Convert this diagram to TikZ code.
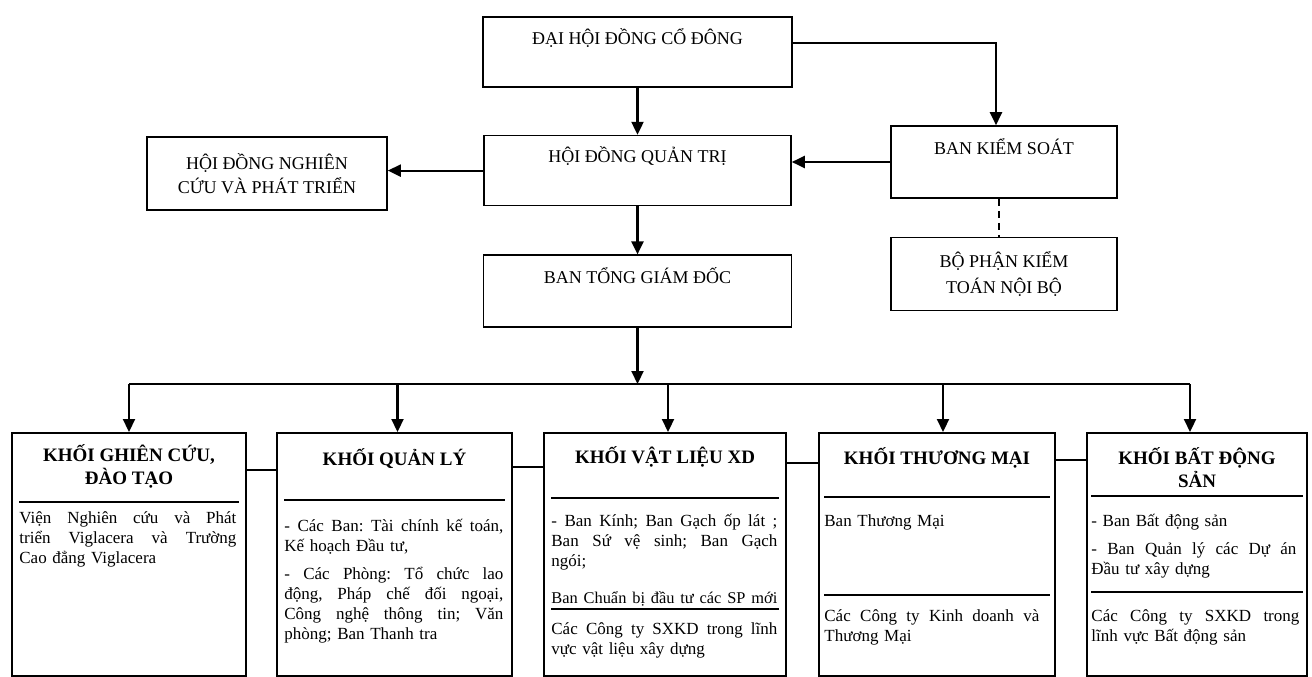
\documentclass[tikz,border=0pt]{standalone}
\usepackage{fontspec}
\setmainfont{Liberation Serif}
\usetikzlibrary{arrows.meta,positioning,calc}

\newcommand{\jl}[2]{\leavevmode\hbox to #1{\spaceskip=.25em plus 1fil\xspaceskip=.25em plus 1fil\relax #2}}

\begin{document}
\begin{tikzpicture}[x=1pt,y=-1pt,>={Triangle[length=13pt,width=12pt]},
    ban/.style={draw,line width=1.6pt,minimum width=307pt,minimum height=71pt,inner sep=0pt,align=center,font=\fontsize{18}{24}\selectfont},
    khoi/.style={draw,line width=1.6pt,anchor=north,minimum height=243pt,inner sep=0pt},
    tieude/.style={align=center,inner sep=0pt,font=\fontsize{19}{23}\selectfont\bfseries},
    noidung/.style={anchor=north west,inner sep=0pt,font=\fontsize{17}{20}\selectfont\frenchspacing},
    vach/.style={line width=1.6pt},
    muiten/.style={->,line width=2.2pt}]

    \useasboundingbox (0,0) rectangle (1312,677);

    \node[ban, minimum width=309pt, minimum height=70pt] (dhdcd) at (637.5,52) {ĐẠI HỘI ĐỒNG CỔ ĐÔNG\\ \strut};
    \node[ban, minimum height=70pt] (hdqt) [below=47pt of dhdcd] {HỘI ĐỒNG QUẢN TRỊ\\ \strut};
    \node[ban, minimum width=308pt, minimum height=72pt] (btgd) [below=48pt of hdqt] {BAN TỔNG GIÁM ĐỐC\\ \strut};
    \node[ban, minimum width=226pt, minimum height=72pt] (bks) at (1004,162) {BAN KIỂM SOÁT\\ \strut};
    \node[ban, minimum width=226pt, minimum height=73pt, font=\fontsize{18}{26}\selectfont] (bpktnb) [below=38pt of bks] {BỘ PHẬN KIỂM\\TOÁN NỘI BỘ};
    \node[ban, minimum width=240pt, minimum height=73pt] (hdnc) at (267,173.5) {HỘI ĐỒNG NGHIÊN\\CỨU VÀ PHÁT TRIỂN};

    \draw[muiten] (dhdcd) -- (hdqt);
    \draw[muiten] (hdqt) -- (btgd);
    \draw[muiten] ([yshift=9pt]dhdcd.east) -| ([xshift=-8pt]bks.north);
    \draw[muiten] (bks.west) -- (hdqt.east |- bks.west);
    \draw[muiten] (hdqt.west) -- (hdnc.east |- hdqt.west);
    \draw[vach, line width=1.3pt, dash pattern=on 7pt off 5pt] ([xshift=-5pt]bks.south) -- ([xshift=-5pt]bks.south |- bpktnb.north);

    \node[khoi, minimum width=234pt] (kNC) at (129,432) {};
    \node[khoi, minimum width=235pt] (kQL) [right=29.4pt of kNC] {};
    \node[khoi, minimum width=242pt] (kVL) [right=30.4pt of kQL] {};
    \node[khoi, minimum width=236pt] (kTM) [right=31.4pt of kVL] {};
    \node[khoi, minimum width=220pt] (kBDS) [right=30.4pt of kTM] {};

    \coordinate (bus) at (btgd.south |- 0,384);
    \draw[muiten] (btgd) -- (bus);
    \draw[vach, line width=2pt] (kNC.north |- bus) -- ([xshift=-7pt]kBDS.north |- bus);
    \foreach \k/\d in {kNC/0,kQL/3,kVL/3,kTM/6,kBDS/-7}
        \draw[muiten] ([xshift=\d pt]\k.north |- bus) -- ([xshift=\d pt]\k.north);

    \draw[vach] ($(kNC.north east)+(0,38)$) -- ($(kQL.north west)+(0,38)$);
    \draw[vach] ($(kQL.north east)+(0,35)$) -- ($(kVL.north west)+(0,35)$);
    \draw[vach] ($(kVL.north east)+(0,31)$) -- ($(kTM.north west)+(0,31)$);
    \draw[vach] ($(kTM.north east)+(0,28)$) -- ($(kBDS.north west)+(0,28)$);

    \node[tieude] (tNC) at ($(kNC.north)+(0,34)$) {KHỐI GHIÊN CỨU,\\ĐÀO TẠO};
    \node[tieude] (tQL) at ($(kQL.north)+(0,27)$) {KHỐI QUẢN LÝ};
    \node[tieude] (tVL) at ($(kVL.north)+(0,25)$) {KHỐI VẬT LIỆU XD};
    \node[tieude] (tTM) at ($(kTM.north)+(0,26)$) {KHỐI THƯƠNG MẠI};
    \node[tieude] (tBDS) at ($(kBDS.north)+(0,36)$) {KHỐI BẤT ĐỘNG\\SẢN};

    \draw[vach] ($(kNC.north west)+(8,70)$) -- ($(kNC.north east)+(-8,70)$);
    \draw[vach] ($(kQL.north west)+(8,68)$) -- ($(kQL.north east)+(-8,68)$);
    \draw[vach] ($(kVL.north west)+(8,66)$) -- ($(kVL.north east)+(-8,66)$);
    \draw[vach] ($(kVL.north west)+(8,177)$) -- ($(kVL.north east)+(-8,177)$);
    \draw[vach] ($(kTM.north west)+(6,65)$) -- ($(kTM.north east)+(-6,65)$);
    \draw[vach] ($(kTM.north west)+(6,163)$) -- ($(kTM.north east)+(-6,163)$);
    \draw[vach] ($(kBDS.north west)+(5,64)$) -- ($(kBDS.north east)+(-5,64)$);
    \draw[vach] ($(kBDS.north west)+(5,160)$) -- ($(kBDS.north east)+(-5,160)$);

    \node[noidung, text width=217pt] (nNC) at ($(kNC.north west)+(8,77)$)
        {\strut\jl{217pt}{Viện Nghiên cứu và Phát}\\ \jl{217pt}{triển Viglacera và Trường}\\ Cao đẳng Viglacera};
    \node[noidung, text width=219pt] (nQL) at ($(kQL.north west)+(8,85)$)
        {\strut\jl{219pt}{- Các Ban: Tài chính kế toán,}\\ Kế hoạch Đầu tư,\\[8pt] \jl{219pt}{- Các Phòng: Tổ chức lao}\\ \jl{219pt}{động, Pháp chế đối ngoại,}\\ \jl{219pt}{Công nghệ thông tin; Văn}\\ phòng; Ban Thanh tra};
    \node[noidung, text width=226pt] (nVL) at ($(kVL.north west)+(8,80)$)
        {\strut\jl{226pt}{- Ban Kính; Ban Gạch ốp lát ;}\\ \jl{226pt}{Ban Sứ vệ sinh; Ban Gạch}\\ ngói;};
    \node[noidung, text width=226pt, font=\fontsize{16.4}{20}\selectfont] (nVL2) at ($(kVL.north west)+(8,157)$)
        {\strut\jl{226pt}{Ban Chuẩn bị đầu tư các SP mới}};
    \node[noidung, text width=226pt] (nVL3) at ($(kVL.north west)+(8,188)$)
        {\strut\jl{226pt}{Các Công ty SXKD trong lĩnh}\\ vực vật liệu xây dựng};
    \node[noidung, text width=224pt] (nTM) at ($(kTM.north west)+(6,80)$)
        {\strut Ban Thương Mại};
    \node[noidung, text width=224pt] (nTM2) at ($(kTM.north west)+(6,175)$)
        {\strut\jl{215pt}{Các Công ty Kinh doanh và}\\ Thương Mại};
    \node[noidung, text width=210pt] (nBDS) at ($(kBDS.north west)+(5,80)$)
        {\strut - Ban Bất động sản\\[8pt] \jl{205pt}{- Ban Quản lý các Dự án}\\ Đầu tư xây dựng};
    \node[noidung, text width=210pt] (nBDS2) at ($(kBDS.north west)+(5,175)$)
        {\strut\jl{208pt}{Các Công ty SXKD trong}\\ lĩnh vực Bất động sản};
\end{tikzpicture}
\end{document}
